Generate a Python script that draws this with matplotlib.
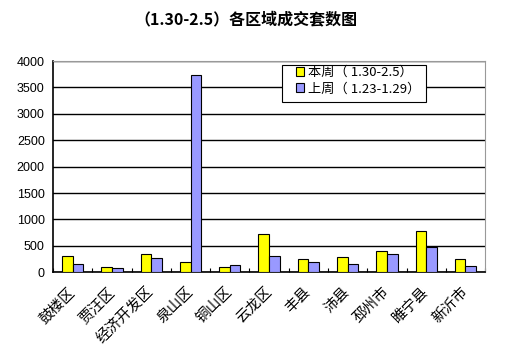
import numpy as np
import matplotlib.pyplot as plt
from matplotlib.patches import Rectangle

plt.rcParams['font.family'] = ['Noto Sans CJK SC', 'DejaVu Sans']

districts = ['鼓楼区', '贾汪区', '经济开发区', '泉山区', '铜山区', '云龙区',
             '丰县', '沛县', '邳州市', '睢宁县', '新沂市']
this_week = [310, 89, 335, 184, 89, 715, 240, 278, 392, 771, 240]
last_week = [146, 70, 260, 3730, 127, 297, 184, 146, 335, 480, 108]
y_ticks = [0, 500, 1000, 1500, 2000, 2500, 3000, 3500, 4000]

fig = plt.figure(figsize=(5.15, 3.53), dpi=100)
ax = fig.add_axes([0.103, 0.229, 0.839, 0.598])

x = np.arange(len(districts))
w = 0.27
ax.bar(x - w / 2, this_week, w, color='#FFFF00', edgecolor='black', linewidth=0.8,
       label='本周（ 1.30-2.5）', zorder=3)
ax.bar(x + w / 2, last_week, w, color='#9999FF', edgecolor='black', linewidth=0.8,
       label='上周（ 1.23-1.29）', zorder=3)

ax.set_ylim(0, 4000)
ax.set_xlim(-0.5, len(districts) - 0.5)
ax.set_yticks(y_ticks)
ax.set_yticklabels([str(v) for v in y_ticks], family='Liberation Sans', fontsize=9)
ax.yaxis.grid(True, color='black', linewidth=1, zorder=0)
ax.tick_params(axis='y', length=0, pad=6)

# category boundary ticks on x axis
ax.set_xticks(np.arange(len(districts) + 1) - 0.5, minor=True)
ax.tick_params(axis='x', which='minor', length=3, direction='in', width=0.8)
ax.set_xticks(x - 0.12)
ax.set_xticklabels(districts, rotation=45, ha='right', va='top',
                   rotation_mode='anchor', fontsize=10.5)
ax.tick_params(axis='x', which='major', length=0, pad=9)

for side in ['top', 'right']:
    ax.spines[side].set_color('#999999')
for side in ['left', 'bottom']:
    ax.spines[side].set_color('black')
    ax.spines[side].set_linewidth(1.2)

# legend box, wider than the entries like the original
ax.add_patch(Rectangle((282 / 515, 1 - 102 / 353), 144 / 515, 37 / 353,
                       transform=fig.transFigure, facecolor='white',
                       edgecolor='black', linewidth=0.8, zorder=4, clip_on=False))
leg = ax.legend(loc='upper left', bbox_to_anchor=(296 / 515, 1 - 66 / 353),
                bbox_transform=fig.transFigure, fontsize=9.5, frameon=False,
                handlelength=0.6, handleheight=0.6, handletextpad=0.3,
                borderpad=0, labelspacing=0.25, borderaxespad=0)
leg.set_zorder(5)

fig.text(0.478, 0.945, '（1.30-2.5）各区域成交套数图', ha='center', va='center',
         fontsize=11.5, fontweight='bold')

fig.savefig('out.png', dpi=100)
